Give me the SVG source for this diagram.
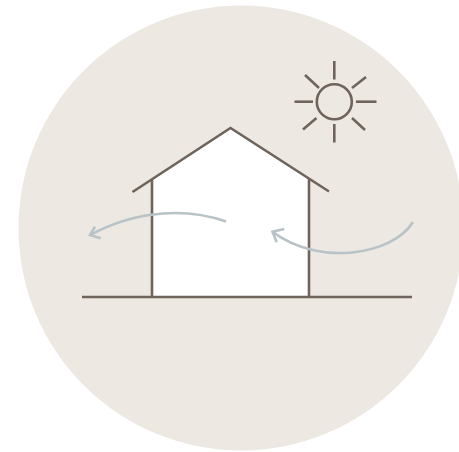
<svg xmlns="http://www.w3.org/2000/svg" width="459" height="452" viewBox="0 0 459 452">
  <style>
    .line { fill: none; stroke: #6e645b; stroke-width: 2.6; stroke-linecap: butt; stroke-linejoin: miter; }
    .air { fill: none; stroke: #b7c3c6; stroke-width: 2.6; stroke-linecap: butt; stroke-linejoin: miter; }
  </style>
  <rect width="459" height="452" fill="#ffffff"/>
  <!-- backdrop disc -->
  <circle cx="241" cy="228" r="222.5" fill="#ede8e2"/>

  <!-- sun -->
  <g id="sun">
    <circle cx="334.3" cy="101.7" r="17.5" fill="#ffffff" class="line"/>
    <line class="line" x1="334.3" y1="61" x2="334.3" y2="79.5"/>
    <line class="line" x1="334.3" y1="124" x2="334.3" y2="142.5"/>
    <line class="line" x1="294.5" y1="101.7" x2="313" y2="101.7"/>
    <line class="line" x1="356" y1="101.7" x2="376.5" y2="101.7"/>
    <line class="line" x1="305" y1="75" x2="319" y2="88"/>
    <line class="line" x1="366" y1="77" x2="352" y2="88"/>
    <line class="line" x1="303" y1="129.5" x2="316.5" y2="118"/>
    <line class="line" x1="352" y1="118" x2="365" y2="130"/>
  </g>

  <!-- house -->
  <g id="house">
    <polygon points="152,179.5 230.5,128.5 309,179.5 309,297 152,297" fill="#ffffff"/>
    <line class="line" x1="152" y1="179" x2="152" y2="297"/>
    <line class="line" x1="309" y1="179" x2="309" y2="297"/>
    <polyline class="line" points="132.5,192 230.5,128 329,191.5"/>
  </g>

  <!-- ground -->
  <g id="ground">
    <line class="line" x1="82" y1="297" x2="412" y2="297"/>
  </g>

  <!-- airflow -->
  <g id="airflow">
    <path class="air" d="M226,221.5 C190,209 140,208 90,235"/>
    <polyline class="air" points="95,226.7 90,235 100.7,238.3"/>
    <path class="air" d="M413,222 C392,256 318,266 272.5,231.7"/>
    <polyline class="air" points="284.3,229 272.5,231.7 276.7,242.3"/>
  </g>
</svg>
